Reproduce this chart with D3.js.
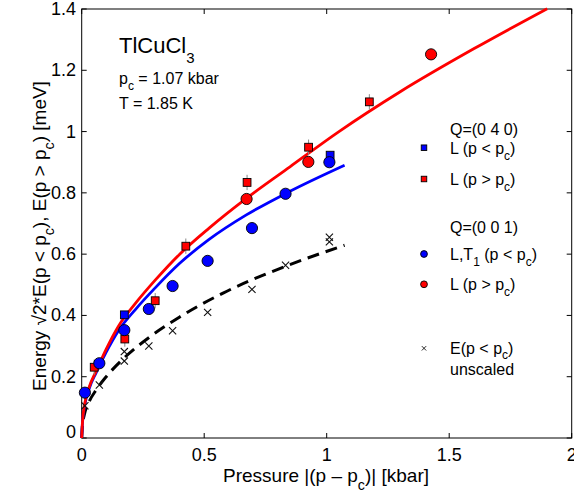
<!DOCTYPE html>
<html><head><meta charset="utf-8">
<script src="https://cdn.jsdelivr.net/npm/d3@7"></script>
<style>
body{margin:0;background:#fff;}
svg text{font-family:"Liberation Sans",Arial,Helvetica,sans-serif;fill:#000;}
</style></head>
<body><svg id="chart" width="574" height="498"></svg>
<script>
// ---------- data ----------
const xTicks = [0, 0.5, 1, 1.5, 2];
const xTickLabels = ["0", "0.5", "1", "1.5", "2"];
const yTicks = [0, 0.2, 0.4, 0.6, 0.8, 1.0, 1.2, 1.4];
const yTickLabels = ["0", "0.2", "0.4", "0.6", "0.8", "1", "1.2", "1.4"];

// Q=(0 4 0)
const q040LowX = [0.174, 1.014];
const q040LowY = [0.402, 0.923];
const q040HighX = [0.051, 0.176, 0.300, 0.425, 0.675, 0.926, 1.174];
const q040HighY = [0.231, 0.323, 0.448, 0.626, 0.834, 0.949, 1.097];
const q040Err = [0.025, 0.025, 0.025, 0.025, 0.025, 0.025, 0.025];
// Q=(0 0 1)
const q001LowX = [0.013, 0.072, 0.174, 0.274, 0.371, 0.514, 0.695, 0.832, 1.011];
const q001LowY = [0.148, 0.244, 0.352, 0.421, 0.496, 0.578, 0.685, 0.797, 0.900];
const q001HighX = [0.673, 0.925, 1.426];
const q001HighY = [0.780, 0.901, 1.252];
// E(p<pc) unscaled
const unscaledX = [0.013, 0.072, 0.174, 0.174, 0.274, 0.371, 0.514, 0.695, 0.832, 1.011, 1.011];
const unscaledY = [0.105, 0.173, 0.251, 0.282, 0.300, 0.350, 0.410, 0.485, 0.564, 0.640, 0.655];

// fitted curves
const fitHighX = [0, 0.003, 0.012, 0.03, 0.06, 0.1, 0.15, 0.22, 0.3, 0.4, 0.52, 0.672, 0.85, 1.05, 1.3, 1.6, 1.9];
const fitHighY = [0, 0.05, 0.11, 0.165, 0.22, 0.29, 0.365, 0.44, 0.515, 0.60, 0.685, 0.782, 0.885, 1.0, 1.13, 1.27, 1.401];
const fitLowX = [0, 0.003, 0.012, 0.03, 0.06, 0.1, 0.15, 0.22, 0.3, 0.4, 0.52, 0.672, 0.85, 1.073];
const fitLowY = [0, 0.048, 0.105, 0.16, 0.215, 0.28, 0.35, 0.42, 0.49, 0.57, 0.648, 0.728, 0.805, 0.890];
const fitUnscaledX = [0, 0.003, 0.012, 0.03, 0.06, 0.1, 0.174, 0.278, 0.4, 0.577, 0.821, 1.073];
const fitUnscaledY = [0, 0.04, 0.08, 0.118, 0.158, 0.2, 0.262, 0.33, 0.395, 0.473, 0.557, 0.629];

// ---------- drawing ----------
const svg = d3.select("#chart");
const L = 81.7, R = 571.7, T = 9, B = 438;
const x = d3.scaleLinear().domain([0, 2]).range([L, R]);
const y = d3.scaleLinear().domain([0, 1.4]).range([B, T]);
const zip = (a, b) => a.map((v, i) => [v, b[i]]);

function richText(parent, px, py, parts, size, anchor, rotate) {
  const g = parent.append("g")
    .attr("transform", `translate(${px},${py})` + (rotate ? ` rotate(${rotate})` : ""));
  const t = g.append("text").attr("font-size", size).attr("text-anchor", anchor || "start");
  let pending = 0;
  parts.forEach(p => {
    if (typeof p === "string") {
      const ts = t.append("tspan").attr("font-size", size).text(p);
      if (pending) { ts.attr("dy", -pending); pending = 0; }
    } else {
      const s = p.size || size * 0.75;
      t.append("tspan").attr("dy", p.shift).attr("font-size", s).text(p.sub);
      pending = p.shift;
    }
  });
  return t;
}

// frame + ticks
const ax = svg.append("g").attr("stroke", "#000").attr("stroke-width", 1).attr("fill", "none");
ax.append("rect").attr("x", L).attr("y", T).attr("width", R - L).attr("height", B - T);
xTicks.forEach(v => {
  ax.append("line").attr("x1", x(v)).attr("x2", x(v)).attr("y1", B).attr("y2", B - 5);
  ax.append("line").attr("x1", x(v)).attr("x2", x(v)).attr("y1", T).attr("y2", T + 5);
});
yTicks.forEach(v => {
  ax.append("line").attr("x1", L).attr("x2", L + 5).attr("y1", y(v)).attr("y2", y(v));
  ax.append("line").attr("x1", R).attr("x2", R - 5).attr("y1", y(v)).attr("y2", y(v));
});
// tick labels
xTicks.forEach((v, i) => {
  svg.append("text").attr("x", x(v)).attr("y", 461).attr("font-size", 18)
    .attr("text-anchor", "middle").text(xTickLabels[i]);
});
yTicks.forEach((v, i) => {
  svg.append("text").attr("x", 76).attr("y", y(v) + 6 - (v === 0 ? 6 : 0)).attr("font-size", 18)
    .attr("text-anchor", "end").text(yTickLabels[i]);
});

// axis titles
richText(svg, 326, 482, ["Pressure |(p \u2013 p", {sub: "c", shift: 8}, ")| [kbar]"], 19, "middle");
richText(svg, 46, 236, ["Energy \u221A2*E(p < p", {sub: "c", shift: 8}, "), E(p > p", {sub: "c", shift: 8}, ") [meV]"], 19, "middle", -90);

// annotations
richText(svg, 119, 53, ["TlCuCl", {sub: "3", shift: 10, size: 15}], 22, "start");
richText(svg, 119, 84, ["p", {sub: "c", shift: 6, size: 12}, " = 1.07 kbar"], 16, "start");
richText(svg, 119, 109, ["T = 1.85 K"], 16, "start");

// fitted curves
const line = d3.line().x(d => x(d[0])).y(d => y(d[1])).curve(d3.curveMonotoneX);
const plot = svg.append("g");
plot.append("path").attr("d", line(zip(fitUnscaledX, fitUnscaledY))).attr("fill", "none")
  .attr("stroke", "#000").attr("stroke-width", 3).attr("stroke-dasharray", "12,7");
plot.append("path").attr("d", line(zip(fitLowX, fitLowY))).attr("fill", "none")
  .attr("stroke", "#0000ff").attr("stroke-width", 2.8);
plot.append("path").attr("d", line(zip(fitHighX, fitHighY))).attr("fill", "none")
  .attr("stroke", "#ff0000").attr("stroke-width", 2.8);

// error bars (squares)
q040HighX.forEach((v, i) => {
  plot.append("line").attr("x1", x(v)).attr("x2", x(v))
    .attr("y1", y(q040HighY[i] - q040Err[i])).attr("y2", y(q040HighY[i] + q040Err[i]))
    .attr("stroke", "#888").attr("stroke-width", 1);
});

// crosses
function cross(g, cx, cy, s, w) {
  g.append("path").attr("d", `M${cx - s},${cy - s}L${cx + s},${cy + s}M${cx - s},${cy + s}L${cx + s},${cy - s}`)
    .attr("stroke", "#111").attr("stroke-width", w).attr("fill", "none");
}
zip(unscaledX, unscaledY).forEach(d => cross(plot, x(d[0]), y(d[1]), 3.6, 1.1));

// markers
function sq(g, cx, cy, s, fill) {
  g.append("rect").attr("x", cx - s / 2).attr("y", cy - s / 2).attr("width", s).attr("height", s)
    .attr("fill", fill).attr("stroke", "#000").attr("stroke-width", 0.9);
}
function circ(g, cx, cy, r, fill) {
  g.append("circle").attr("cx", cx).attr("cy", cy).attr("r", r)
    .attr("fill", fill).attr("stroke", "#000").attr("stroke-width", 0.9);
}
zip(q040HighX, q040HighY).forEach(d => sq(plot, x(d[0]), y(d[1]), 7.8, "#ff0000"));
zip(q040LowX, q040LowY).forEach(d => sq(plot, x(d[0]), y(d[1]), 7.8, "#0000ff"));
zip(q001LowX, q001LowY).forEach(d => circ(plot, x(d[0]), y(d[1]), 5.6, "#0000ff"));
zip(q001HighX, q001HighY).forEach(d => circ(plot, x(d[0]), y(d[1]), 5.6, "#ff0000"));

// legend
const lg = svg.append("g");
const LX = 424, TX = 450;
richText(lg, TX, 135, ["Q=(0 4 0)"], 16, "start");
sq(lg, LX, 147.7, 5.5, "#0000ff");
richText(lg, TX, 153.7, ["L (p < p", {sub: "c", shift: 6, size: 12}, ")"], 16, "start");
sq(lg, LX, 179, 5.5, "#ff0000");
richText(lg, TX, 185, ["L (p > p", {sub: "c", shift: 6, size: 12}, ")"], 16, "start");
richText(lg, TX, 232.5, ["Q=(0 0 1)"], 16, "start");
circ(lg, LX, 254, 3.4, "#0000ff");
richText(lg, TX, 260, ["L,T", {sub: "1", shift: 6, size: 12}, " (p < p", {sub: "c", shift: 6, size: 12}, ")"], 16, "start");
circ(lg, LX, 284.3, 3.4, "#ff0000");
richText(lg, TX, 290.3, ["L (p > p", {sub: "c", shift: 6, size: 12}, ")"], 16, "start");
cross(lg, LX, 348.3, 2.2, 0.9);
richText(lg, TX, 354.3, ["E(p < p", {sub: "c", shift: 5, size: 12}, ")"], 16, "start");
richText(lg, TX, 375, ["unscaled"], 16, "start");
</script></body></html>
